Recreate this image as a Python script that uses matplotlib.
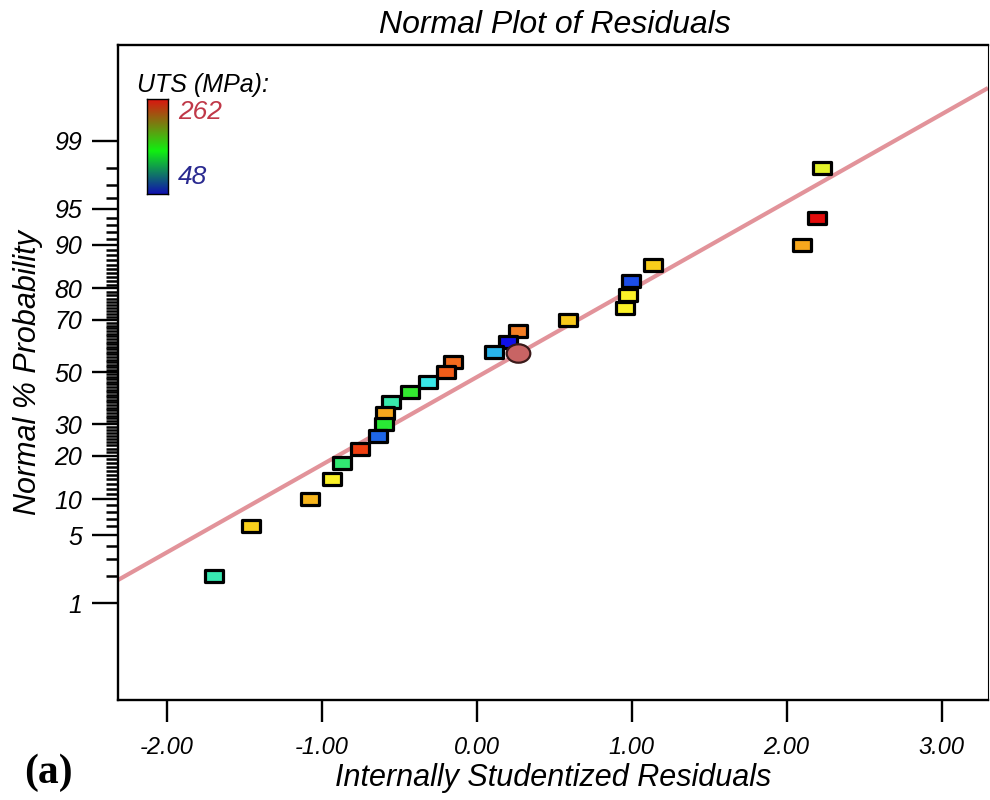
import numpy as np
import matplotlib
matplotlib.use('Agg')
import matplotlib.pyplot as plt
from matplotlib.path import Path
from matplotlib.markers import MarkerStyle
from matplotlib.colors import LinearSegmentedColormap, Normalize
from matplotlib.ticker import FixedLocator, NullFormatter
from statistics import NormalDist

# ---------------- data ----------------
residuals = [-1.695, -1.455, -1.076, -0.934, -0.869, -0.753, -0.637, -0.598, -0.591,
             -0.553, -0.430, -0.314, -0.198, -0.152, 0.113, 0.203, 0.267, 0.590,
             0.958, 0.977, 0.997, 1.139, 2.101, 2.198, 2.231]
probability = [2, 6, 10, 14, 18, 22, 26, 30, 34, 38, 42, 46, 50, 54, 58, 62, 66, 70,
               74, 78, 82, 86, 90, 94, 98]
uts = [127, 196, 206, 181, 136, 241, 72, 144, 211, 129, 146, 112, 232, 228, 91, 48,
       223, 200, 181, 181, 65, 198, 211, 262, 176]
highlight_residual = [0.267]
highlight_probability = [57.5]
fit_slope = 0.8824
fit_intercept = -0.052
uts_min, uts_max = 48, 262
y_ticks = [1, 5, 10, 20, 30, 50, 70, 80, 90, 95, 99]
y_minor = [v for v in range(1, 100) if v not in y_ticks]
x_ticks = [-2.0, -1.0, 0.0, 1.0, 2.0, 3.0]
x_tick_labels = ['-2.00', '-1.00', '0.00', '1.00', '2.00', '3.00']

# ---------------- scale ----------------
_nd = NormalDist()
_ppf = np.vectorize(_nd.inv_cdf, otypes=[float])
_cdf = np.vectorize(_nd.cdf, otypes=[float])

def fwd(p):
    q = np.clip(np.asarray(p, float) / 100.0, 1e-9, 1 - 1e-9)
    return _ppf(q)

def inv(z):
    return 100.0 * _cdf(np.asarray(z, float))

point_cmap = LinearSegmentedColormap.from_list('uts', [
    (0.00, '#1010e8'), (0.10, '#1e5ee8'), (0.20, '#28b4ec'), (0.30, '#38e8e8'),
    (0.38, '#38e8a8'), (0.45, '#28e830'), (0.62, '#fcf428'), (0.72, '#f8c418'),
    (0.82, '#f47e24'), (0.90, '#f04010'), (1.00, '#e40c0c')])
bar_cmap = LinearSegmentedColormap.from_list('bar', [
    (0.0, '#1010b0'), (0.45, '#10f010'), (1.0, '#e01010')])

sans = ['Liberation Sans', 'DejaVu Sans']

fig = plt.figure(figsize=(9.9, 8.0), dpi=100)
ax = fig.add_axes([118 / 990, 1 - 700 / 800, (988 - 118) / 990, (700 - 45) / 800])
ax.set_yscale('function', functions=(fwd, inv))

xlim = (-2.315, 3.30)
ax.set_xlim(*xlim)
ax.set_ylim(inv(-3.303), inv(3.293))

# fit line (straight in probit space)
lx = np.array(xlim)
lz = fit_intercept + fit_slope * lx
ax.plot(lx, inv(lz), color='#e2939a', lw=3.0, zorder=2, solid_capstyle='butt')

# rectangular markers
rect = Path([(-1, -0.66), (1, -0.66), (1, 0.66), (-1, 0.66), (-1, -0.66)],
            [Path.MOVETO, Path.LINETO, Path.LINETO, Path.LINETO, Path.CLOSEPOLY])
rect_marker = MarkerStyle(rect, joinstyle='round')
ax.scatter(residuals[::-1], probability[::-1], c=uts[::-1], cmap=point_cmap,
           norm=Normalize(uts_min, uts_max), marker=rect_marker, s=13.0 ** 2,
           edgecolors='black', linewidths=2.3, zorder=3)

circ = Path.unit_circle()
ell = Path(circ.vertices * np.array([1.0, 0.78]), circ.codes)
ax.plot(highlight_residual, highlight_probability, linestyle='none',
        marker=MarkerStyle(ell), markersize=17, mfc='#c86464', mec='#3a1a1a',
        mew=1.6, zorder=4)

# axes styling
for s in ['left', 'bottom', 'top', 'right']:
    ax.spines[s].set_linewidth(1.7)
ax.spines['right'].set_linewidth(0.8)
ax.set_xticks(x_ticks)
ax.set_xticklabels(x_tick_labels)
ax.yaxis.set_major_locator(FixedLocator(y_ticks))
ax.yaxis.set_minor_locator(FixedLocator(y_minor))
ax.yaxis.set_minor_formatter(NullFormatter())
ax.set_yticklabels([str(v) for v in y_ticks])
ax.tick_params(axis='y', which='major', length=19, width=1.7, pad=7, direction='out')
ax.tick_params(axis='y', which='minor', length=9, width=1.8, direction='out')
ax.tick_params(axis='x', which='major', length=16, width=1.7, pad=10, direction='out')
ax.tick_params(axis='x', which='minor', length=0)
for lab in ax.get_yticklabels():
    lab.set_family(sans); lab.set_style('italic'); lab.set_fontsize(18)
for lab in ax.get_xticklabels():
    lab.set_family(sans); lab.set_style('italic'); lab.set_fontsize(17)

ax.set_ylabel('Normal % Probability', family=sans, style='italic', fontsize=22, labelpad=8)
ax.set_xlabel('Internally Studentized Residuals', family=sans, style='italic', fontsize=22, labelpad=3)
fig.text(555 / 990, 1 - 33 / 800, 'Normal Plot of Residuals', family=sans, style='italic',
         fontsize=23, ha='center', va='baseline')

# colour legend
fig.text(137 / 990, 1 - 92 / 800, 'UTS (MPa):', family=sans, style='italic', fontsize=18,
         ha='left', va='baseline')
cax = fig.add_axes([147 / 990, 1 - 194 / 800, 21 / 990, 95 / 800])
cax.imshow(np.linspace(1, 0, 256)[:, None], aspect='auto', cmap=bar_cmap)
cax.set_xticks([]); cax.set_yticks([])
for s in cax.spines.values():
    s.set_linewidth(1.0)
fig.text(178 / 990, 1 - 119 / 800, str(uts_max), family=sans, style='italic', fontsize=19,
         color='#c03848', ha='left', va='baseline')
fig.text(178 / 990, 1 - 184 / 800, str(uts_min), family=sans, style='italic', fontsize=19,
         color='#2a2a90', ha='left', va='baseline')

fig.text(24 / 990, 1 - 783 / 800, '(a)', family=['Liberation Serif', 'DejaVu Serif'],
         fontweight='bold', fontsize=30, ha='left', va='baseline')

fig.savefig('out.png', dpi=100)
